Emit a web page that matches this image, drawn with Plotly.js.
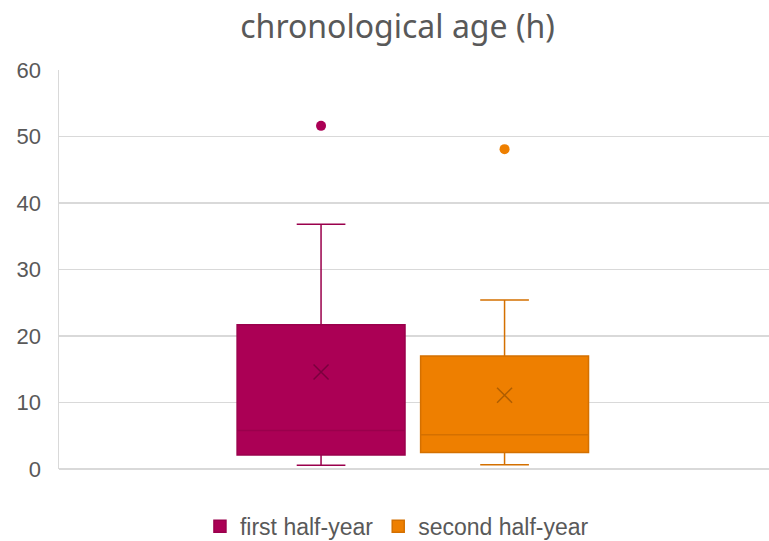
<!DOCTYPE html>
<html>
<head>
<meta charset="utf-8">
<script src="https://cdn.plot.ly/plotly-3.0.1.min.js"></script>
<style>html,body{margin:0;padding:0;background:#fff;}#chart{width:769px;height:541px;}</style>
</head>
<body>
<div id="chart"></div>
<script>
// Data
const seriesNames = ["first half-year", "second half-year"];
const lowerWhisker = [0.55, 0.65];
const q1Values = [2.1, 2.5];
const medianValues = [5.8, 5.15];
const q3Values = [21.7, 17.0];
const upperWhisker = [36.8, 25.4];
const meanValues = [14.6, 11.1];
const outlierValues = [[51.6], [48.1]];
const yTicks = [0, 10, 20, 30, 40, 50, 60];

const fillColors = ["#AB0055", "#EE7F00"];
const lineColors = ["#9A004C", "#D47000"];
const meanColors = ["#7A003E", "#B05E00"];

const traces = [];
seriesNames.forEach((name, i) => {
  traces.push({
    type: "box",
    name: name,
    x: [i],
    q1: [q1Values[i]],
    median: [medianValues[i]],
    q3: [q3Values[i]],
    lowerfence: [lowerWhisker[i]],
    upperfence: [upperWhisker[i]],
    width: 0.915,
    whiskerwidth: 0.29,
    fillcolor: fillColors[i],
    line: { color: lineColors[i], width: 1.5 },
    boxpoints: false,
    hoverinfo: "skip",
    showlegend: true
  });
});
seriesNames.forEach((name, i) => {
  traces.push({
    type: "scatter",
    mode: "markers",
    x: [i],
    y: [meanValues[i]],
    marker: { symbol: "x-thin-open", size: 15, line: { color: meanColors[i], width: 1.5 }, color: meanColors[i] },
    showlegend: false,
    hoverinfo: "skip"
  });
  traces.push({
    type: "scatter",
    mode: "markers",
    x: outlierValues[i].map(() => i),
    y: outlierValues[i],
    marker: { symbol: "circle", size: 10, color: fillColors[i], line: { width: 0 } },
    showlegend: false,
    hoverinfo: "skip"
  });
});

const layout = {
  width: 769,
  height: 541,
  margin: { l: 59, r: 0, t: 70, b: 72, pad: 0, autoexpand: false },
  paper_bgcolor: "#ffffff",
  plot_bgcolor: "#ffffff",
  title: {
    text: "chronological age (h)",
    font: { family: "Noto Sans, Open Sans, sans-serif", size: 32, color: "#595959" },
    x: 0.517, xanchor: "center",
    y: 0.95, yanchor: "middle"
  },
  xaxis: {
    range: [-1.428, 2.441],
    showticklabels: false,
    showgrid: false,
    zeroline: false,
    showline: false,
    ticks: "",
    fixedrange: true
  },
  yaxis: {
    range: [0, 60],
    tickvals: yTicks,
    ticktext: yTicks.map(String),
    showgrid: true,
    gridcolor: "#d9d9d9",
    gridwidth: 1.5,
    zeroline: true,
    zerolinecolor: "#d9d9d9",
    zerolinewidth: 1.5,
    showline: true,
    linecolor: "#d9d9d9",
    linewidth: 1.5,
    ticks: "",
    ticklabelstandoff: 12,
    tickfont: { family: "Liberation Sans, Arial, sans-serif", size: 22, color: "#595959" },
    fixedrange: true
  },
  showlegend: true,
  legend: {
    orientation: "h",
    x: 0.476, xanchor: "center",
    yref: "container",
    y: 0.027, yanchor: "middle",
    font: { family: "Liberation Sans, Arial, sans-serif", size: 23, color: "#595959" },
    itemwidth: 30,
    tracegroupgap: 0
  }
};

Plotly.newPlot("chart", traces, layout, { displayModeBar: false, staticPlot: true });
</script>
</body>
</html>
